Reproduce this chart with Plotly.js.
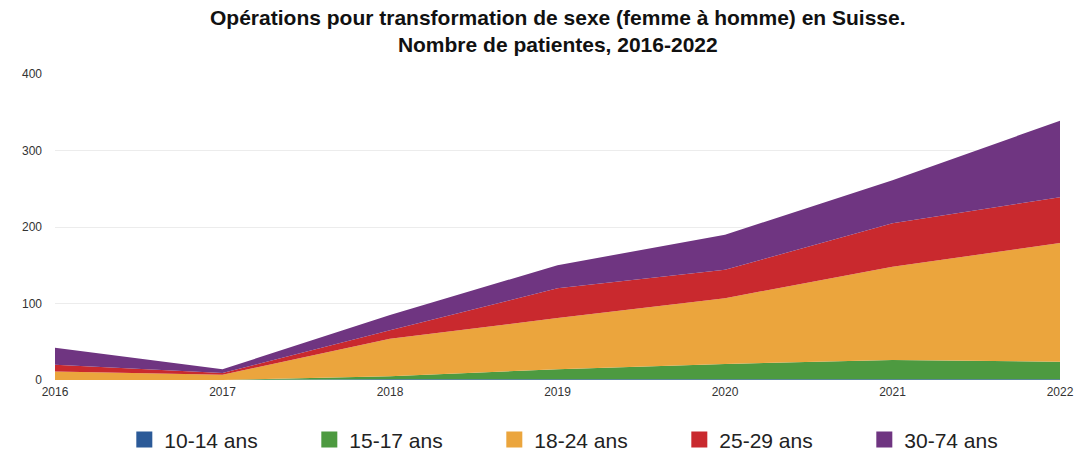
<!DOCTYPE html>
<html>
<head>
<meta charset="utf-8">
<script src="https://cdn.plot.ly/plotly-3.0.1.min.js"></script>
<style>html,body{margin:0;padding:0;background:#fff;}#chart{width:1081px;height:451px;}</style>
</head>
<body>
<div id="chart"></div>
<script>
const years = [2016, 2017, 2018, 2019, 2020, 2021, 2022];
const ages_10_14 = [0, 0, 1, 1, 1, 1, 1];
const ages_15_17 = [0, 0, 4, 13, 20, 25, 23];
const ages_18_24 = [11, 7, 49, 67, 86, 122, 155];
const ages_25_29 = [9, 2, 11, 39, 37, 57, 60];
const ages_30_74 = [22, 5, 20, 30, 46, 56, 100];
const seriesNames = ["10-14 ans", "15-17 ans", "18-24 ans", "25-29 ans", "30-74 ans"];
const yTicks = [0, 100, 200, 300, 400];

const seriesData = [ages_10_14, ages_15_17, ages_18_24, ages_25_29, ages_30_74];
const colors = ["#2b5a98", "#4d9a40", "#eba53d", "#c9292e", "#6f3581"];

const traces = [];
seriesData.forEach((vals, i) => {
  traces.push({
    type: "scatter", mode: "lines", x: years, y: vals, name: seriesNames[i],
    stackgroup: "one", line: {width: 0, color: colors[i]}, fillcolor: colors[i],
    showlegend: false, hoverinfo: "x+y+name"
  });
});
seriesData.forEach((vals, i) => {
  traces.push({
    type: "scatter", mode: "markers", x: [null], y: [null], name: seriesNames[i],
    marker: {symbol: "square", size: 16, color: colors[i]}, showlegend: true, hoverinfo: "skip"
  });
});

const layout = {
  width: 1081, height: 451,
  paper_bgcolor: "#fff", plot_bgcolor: "#fff",
  font: {family: "Liberation Sans, Arial, sans-serif", color: "#333"},
  margin: {l: 55, r: 21, t: 74, b: 71},
  title: {
    text: "<b>Opérations pour transformation de sexe (femme à homme) en Suisse.</b><br><b>Nombre de patientes, 2016-2022</b>",
    font: {size: 21, color: "#111"}, x: 0.516, xanchor: "center",
    yref: "container", y: 0.945, yanchor: "middle"
  },
  xaxis: {
    range: [2016, 2022], tickvals: years, ticktext: years.map(String),
    showgrid: false, zeroline: false, showline: false, ticks: "",
    tickfont: {size: 12, color: "#333"}, ticklabelstandoff: 3
  },
  yaxis: {
    range: [0, 400], tickvals: yTicks, showgrid: true, gridcolor: "#ececec", gridwidth: 1,
    zeroline: false, showline: false, ticks: "", tickfont: {size: 12, color: "#333"},
    ticklabelstandoff: 12
  },
  legend: {
    orientation: "h", xref: "container", x: 0.115, xanchor: "left",
    yref: "container", y: 0.025, yanchor: "middle",
    font: {size: 21, color: "#222"}, itemwidth: 30, entrywidth: 140, traceorder: "normal"
  },
  showlegend: true
};

Plotly.newPlot("chart", traces, layout, {displayModeBar: false, staticPlot: true});
</script>
</body>
</html>
